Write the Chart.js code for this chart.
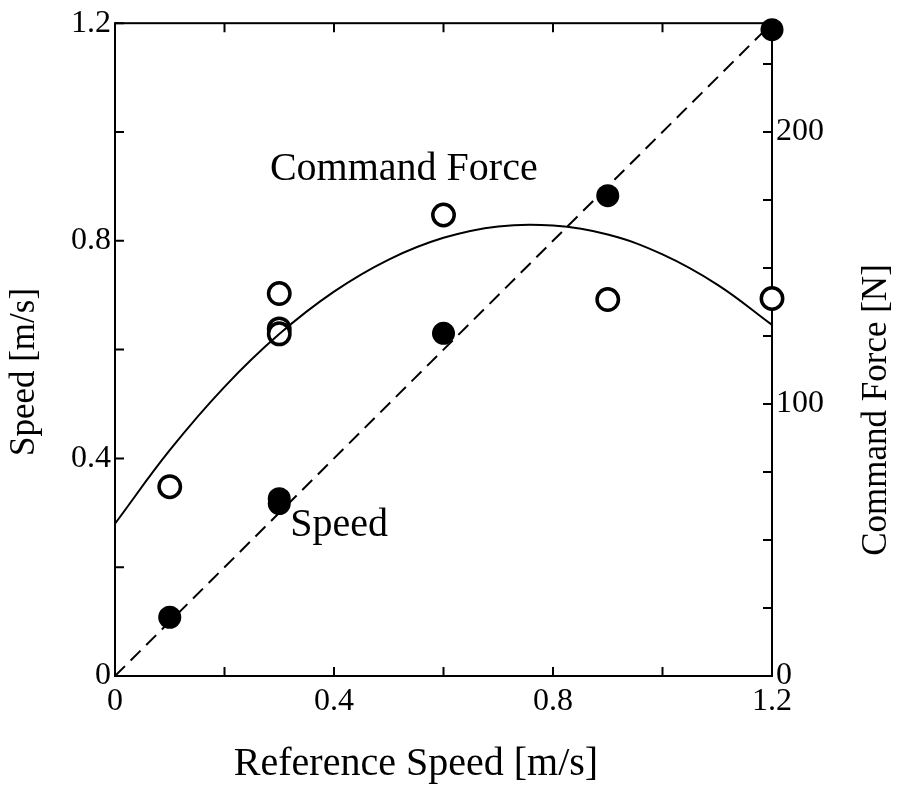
<!DOCTYPE html>
<html>
<head>
<meta charset="utf-8">
<script src="https://cdn.jsdelivr.net/npm/chart.js@4/dist/chart.umd.min.js"></script>
<style>
  html, body { margin: 0; padding: 0; background: #fff; }
  #wrap { width: 898px; height: 799px; }
</style>
</head>
<body>
<div id="wrap"><canvas id="chart" width="898" height="799"></canvas></div>
<script>
// measured speed vs reference speed (filled circles, left axis)
const speedRef = [0.1, 0.3, 0.3, 0.6, 0.9, 1.2];
const speedMeasured = [0.108, 0.317, 0.326, 0.63, 0.883, 1.188];

// command force vs reference speed (open circles, right axis)
const forceRef = [0.1, 0.3, 0.3, 0.3, 0.6, 0.9, 1.2];
const forceValues = [69.6, 140.6, 127.6, 125.8, 169.5, 138.4, 138.8];

// fitted force curve
const curveRef = [0, 0.1, 0.2, 0.3, 0.4, 0.5, 0.6, 0.7, 0.8, 0.9, 1.0, 1.1, 1.2];
const curveForce = [56, 83, 106.3, 125.7, 141.3, 153.1, 161.1, 165.3, 165.6, 162.3, 155, 143.9, 129.1];

// ideal speed line
const idealRef = [0, 1.2];
const idealSpeed = [0, 1.2];

const xTicks = [0, 0.2, 0.4, 0.6, 0.8, 1.0, 1.2];
const xTickLabels = ['0', '', '0.4', '', '0.8', '', '1.2'];
const forceTickLabels = { 0: '0', 100: '100', 200: '200' };

const SERIF = '"Liberation Serif", "Times New Roman", serif';
const TICK_LEN = 9;

const pts = (xs, ys) => xs.map((x, i) => ({ x, y: ys[i] }));

function speedLabel(v) {
  const i = xTicks.findIndex(t => Math.abs(t - v) < 1e-6);
  return i >= 0 ? xTickLabels[i] : '';
}

// box frame + inward ticks, drawn under the marks
const frame = {
  id: 'frame',
  beforeDatasetsDraw(chart) {
    const { ctx, chartArea: a, scales } = chart;
    ctx.save();
    ctx.strokeStyle = '#000';
    ctx.lineWidth = 2;
    ctx.strokeRect(a.left, a.top, a.right - a.left, a.bottom - a.top);
    ctx.beginPath();
    for (const t of scales.x.ticks) {
      const px = scales.x.getPixelForValue(t.value);
      ctx.moveTo(px, a.bottom); ctx.lineTo(px, a.bottom - TICK_LEN);
      ctx.moveTo(px, a.top); ctx.lineTo(px, a.top + TICK_LEN);
    }
    for (const t of scales.y.ticks) {
      const py = scales.y.getPixelForValue(t.value);
      ctx.moveTo(a.left, py); ctx.lineTo(a.left + TICK_LEN, py);
    }
    for (const t of scales.y2.ticks) {
      if (Math.round(t.value) % 25 !== 0) continue;
      const py = scales.y2.getPixelForValue(t.value);
      ctx.moveTo(a.right, py); ctx.lineTo(a.right - TICK_LEN, py);
    }
    ctx.stroke();
    ctx.restore();
  },
  afterDraw(chart) {
    const { ctx, scales } = chart;
    ctx.save();
    ctx.fillStyle = '#000';

    // in-plot labels
    ctx.font = '40px ' + SERIF;
    ctx.textAlign = 'left';
    ctx.textBaseline = 'alphabetic';
    ctx.fillText('Command Force', scales.x.getPixelForValue(0.283), scales.y.getPixelForValue(0.911));
    ctx.fillText('Speed', scales.x.getPixelForValue(0.32), scales.y.getPixelForValue(0.258));

    // axis titles
    ctx.font = '40px ' + SERIF;
    ctx.textAlign = 'center';
    ctx.fillText('Reference Speed [m/s]', 416, 775);

    ctx.font = '35px ' + SERIF;
    ctx.save();
    ctx.translate(34, 372);
    ctx.rotate(-Math.PI / 2);
    ctx.fillText('Speed [m/s]', 0, 0);
    ctx.restore();

    ctx.save();
    ctx.translate(886, 410);
    ctx.rotate(-Math.PI / 2);
    ctx.fillText('Command Force [N]', 0, 0);
    ctx.restore();

    ctx.restore();
  }
};

const tickFont = { family: SERIF, size: 32 };
const noGrid = { display: false, drawTicks: false };

new Chart(document.getElementById('chart'), {
  type: 'scatter',
  data: {
    datasets: [
      {
        label: 'force fit',
        data: pts(curveRef, curveForce),
        yAxisID: 'y2',
        showLine: true,
        borderColor: '#000',
        borderWidth: 2,
        tension: 0.4,
        pointRadius: 0,
      },
      {
        label: 'ideal',
        data: pts(idealRef, idealSpeed),
        yAxisID: 'y',
        showLine: true,
        borderColor: '#000',
        borderWidth: 2,
        borderDash: [14, 8],
        pointRadius: 0,
      },
      {
        label: 'Speed',
        data: pts(speedRef, speedMeasured),
        yAxisID: 'y',
        pointRadius: 11.5,
        pointBackgroundColor: '#000',
        pointBorderColor: '#000',
        pointBorderWidth: 0,
        clip: false,
      },
      {
        label: 'Command Force',
        data: pts(forceRef, forceValues),
        yAxisID: 'y2',
        pointRadius: 10.7,
        pointBackgroundColor: '#fff',
        pointBorderColor: '#000',
        pointBorderWidth: 3.5,
        clip: false,
      },
    ],
  },
  options: {
    responsive: false,
    animation: false,
    events: [],
    layout: { padding: { top: 20, left: 0, right: 0, bottom: 0 } },
    plugins: { legend: { display: false }, tooltip: { enabled: false } },
    scales: {
      x: {
        type: 'linear', min: 0, max: 1.2,
        grid: noGrid, border: { display: false },
        ticks: {
          stepSize: 0.2, autoSkip: false, maxRotation: 0, padding: 6,
          color: '#000', font: tickFont,
          callback: v => speedLabel(v),
        },
        afterFit: s => { s.height = 123; },
      },
      y: {
        type: 'linear', position: 'left', min: 0, max: 1.2,
        grid: noGrid, border: { display: false },
        ticks: {
          stepSize: 0.2, autoSkip: false, padding: 4,
          color: '#000', font: tickFont,
          callback: v => speedLabel(v),
        },
        afterFit: s => { s.width = 115; },
      },
      y2: {
        type: 'linear', position: 'right', min: 0, max: 240,
        grid: noGrid, border: { display: false },
        ticks: {
          stepSize: 25, autoSkip: false, padding: 4,
          color: '#000', font: tickFont,
          callback: v => forceTickLabels[v] ?? '',
        },
        afterFit: s => { s.width = 126; },
      },
    },
  },
  plugins: [frame],
});
</script>
</body>
</html>
